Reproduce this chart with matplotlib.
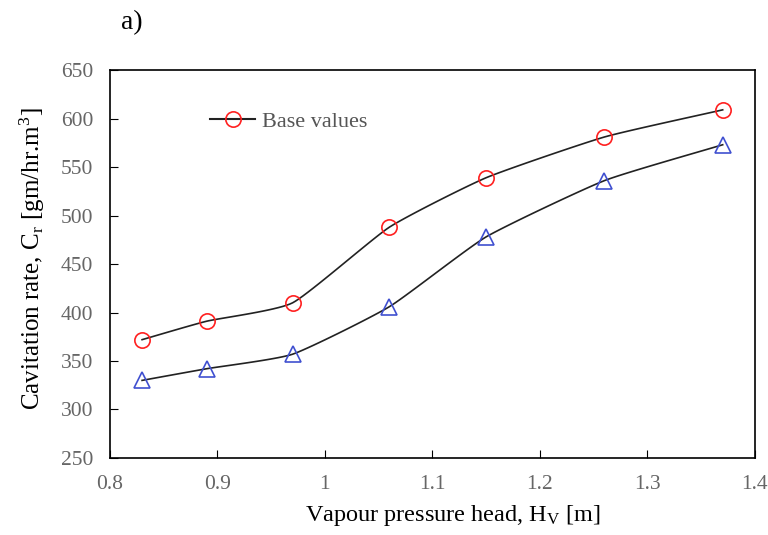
import numpy as np
import matplotlib.pyplot as plt

plt.rcParams['font.family'] = ['Liberation Serif', 'DejaVu Serif']
plt.rcParams['mathtext.fontset'] = 'stix'

head = [0.83, 0.89, 0.97, 1.06, 1.15, 1.26, 1.37]
base_values = [372, 391, 410, 488, 539, 581, 609]
second_values = [330, 342, 357, 406, 478, 536, 573]


def smooth(x, y, n=20, k=0.5):
    # cardinal spline through the points (like Excel's smoothed line)
    x = np.asarray(x, float)
    y = np.asarray(y, float)
    px = np.concatenate([[2 * x[0] - x[1]], x, [2 * x[-1] - x[-2]]])
    py = np.concatenate([[2 * y[0] - y[1]], y, [2 * y[-1] - y[-2]]])
    xs, ys = [], []
    t = np.linspace(0, 1, n)
    h00 = 2 * t ** 3 - 3 * t ** 2 + 1
    h10 = t ** 3 - 2 * t ** 2 + t
    h01 = -2 * t ** 3 + 3 * t ** 2
    h11 = t ** 3 - t ** 2
    for i in range(1, len(px) - 2):
        for p, out in ((px, xs), (py, ys)):
            m1 = k * 0.5 * (p[i + 1] - p[i - 1])
            m2 = k * 0.5 * (p[i + 2] - p[i])
            out.extend(h00 * p[i] + h10 * m1 + h01 * p[i + 1] + h11 * m2)
    return xs, ys


fig = plt.figure(figsize=(7.68, 5.35), dpi=100)
ax = fig.add_axes([0.143, 0.144, 0.840, 0.725])

sx, sy = smooth(head, base_values)
ax.plot(sx, sy, color='#222222', lw=1.2)
ax.plot(head, base_values, 'o', ms=11, mfc='none', mec='#ff2020', mew=1.2)
sx, sy = smooth(head, second_values)
ax.plot(sx, sy, color='#222222', lw=1.2)
ax.plot(head, second_values, '^', ms=11, mfc='none', mec='#4050d0', mew=1.2)

# legend entry (only the base series is labelled)
ax.plot([], [], '-o', color='#222222', ms=11, mfc='none', mec='#ff2020',
        mew=1.2, label='Base values')
ax.legend(loc='upper left', bbox_to_anchor=(0.125, 0.945), frameon=False,
          fontsize=16, handlelength=2.0, handletextpad=0.3,
          labelcolor='#555555')

ax.set_xlim(0.8, 1.4)
ax.set_ylim(250, 650)
ax.set_xticks(np.arange(0.8, 1.41, 0.1))
ax.set_xticklabels(['0.8', '0.9', '1', '1.1', '1.2', '1.3', '1.4'])
ax.set_yticks(range(250, 651, 50))
ax.tick_params(direction='in', length=6, labelsize=15.5, labelcolor='#666666')
ax.tick_params(axis='x', pad=12)
ax.tick_params(axis='y', pad=12)
for s in ax.spines.values():
    s.set_linewidth(1.2)

ax.set_xlabel(r'Vapour pressure head, H$_\mathregular{V}$ [m]', fontsize=17.5,
              labelpad=10)
ax.set_ylabel(r'Cavitation rate, C$_\mathregular{r}$ [gm/hr.m$^\mathregular{3}$]',
              fontsize=18, labelpad=12)
ax.xaxis.set_label_coords(0.532, -0.115)
ax.yaxis.set_label_coords(-0.098, 0.515)
fig.text(0.157, 0.945, 'a)', fontsize=20)

fig.savefig('out.png', dpi=100)
